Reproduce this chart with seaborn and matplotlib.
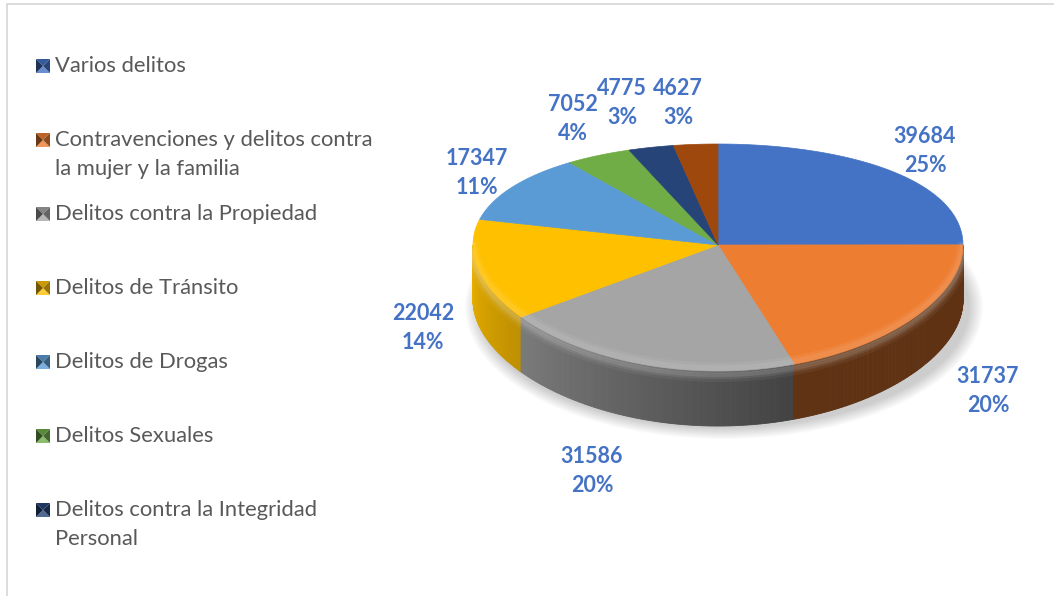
import textwrap
import numpy as np
import matplotlib
matplotlib.use("Agg")
import matplotlib.pyplot as plt
from matplotlib.collections import PolyCollection
from matplotlib.patches import Ellipse, Polygon
import matplotlib.colors as mcolors
import seaborn as sns

# ---------------- data ----------------
categories = [
    "Varios delitos",
    "Contravenciones y delitos contra la mujer y la familia",
    "Delitos contra la Propiedad",
    "Delitos de Tránsito",
    "Delitos de Drogas",
    "Delitos Sexuales",
    "Delitos contra la Integridad Personal",
    "Otros",
]
values = [39684, 31737, 31586, 22042, 17347, 7052, 4775, 4627]
colors_hex = ["#4472C4", "#ED7D31", "#A5A5A5", "#FFC000",
              "#5B9BD5", "#70AD47", "#264478", "#9E480E"]
legend_count = 7  # only the first 7 entries are visible in the legend

# ---------------- style ----------------
sns.set_theme(style="white")
plt.rcParams["font.family"] = ["Lato", "DejaVu Sans"]
palette = sns.color_palette(colors_hex)

W, H = 1054, 596
fig = plt.figure(figsize=(W / 100, H / 100), dpi=100)
ax = fig.add_axes([0, 0, 1, 1])
ax.set_xlim(0, W)
ax.set_ylim(H, 0)
ax.axis("off")

# chart border
ax.plot([7, 7, W + 5], [H + 5, 4, 4], color="#D9D9D9", lw=1.3, zorder=1)

# ---------------- 3D pie geometry ----------------
cx, cy, rx = 718, 245, 245
ry_mid, ry_skew = 113.5, 12.5
depth = 55


def proj(theta_deg, dz=0.0):
    t = np.radians(theta_deg)
    s = np.sin(t)
    return cx + rx * np.cos(t), cy - ry_mid * s + ry_skew * s ** 2 + dz


total = float(sum(values))
fracs = [v / total for v in values]
starts, ends = [], []
a = 90.0
for f in fracs:
    starts.append(a)
    a -= 360.0 * f
    ends.append(a)


def slice_at(theta):
    for i, (s, e) in enumerate(zip(starts, ends)):
        for k in (-360, 0, 360):
            th = theta + k
            if e <= th <= s:
                return i
    return len(values) - 1


# shadow
for i in range(10):
    el = Ellipse((cx + 6, cy + 62), 2 * (rx + 14 - i * 1.5), 2 * (122 - i * 1.2) + 20,
                 facecolor="#000000", alpha=0.018, lw=0, zorder=2)
    ax.add_patch(el)

# side walls (front half: -180..0)
polys, cols = [], []
step = 0.5
for th in np.arange(-180, 0, step):
    t0, t1 = th, th + step
    idx = slice_at((t0 + t1) / 2)
    base = np.array(mcolors.to_rgb(palette[idx]))
    mid = (t0 + t1) / 2
    if mid < -72:
        f = 0.92 + (0.40 - 0.92) * (mid + 180) / 108.0
    else:
        f = 0.40
    c = np.clip(base * f, 0, 1)
    x0, y0 = proj(t0)
    x1, y1 = proj(t1)
    polys.append([(x0, y0), (x1, y1), (x1, y1 + depth), (x0, y0 + depth)])
    cols.append(c)
pc = PolyCollection(polys, facecolors=cols, edgecolors=cols, linewidths=0.6, zorder=3)
ax.add_collection(pc)

# subtle bevel highlight on side top
th = np.linspace(-180, 0, 200)
bx, by = proj(th)
for w, al in [(10, 0.05), (6, 0.08), (3, 0.1)]:
    ax.plot(bx, by + 4, color="white", lw=w, alpha=al, zorder=4, solid_capstyle="butt")

# top faces
for i, (s, e) in enumerate(zip(starts, ends)):
    th = np.linspace(s, e, 120)
    px, py = proj(th)
    pts = [(cx, cy)] + list(zip(px, py))
    ax.add_patch(Polygon(pts, closed=True, facecolor=palette[i], edgecolor=palette[i],
                         lw=0.5, zorder=5))

# bevel on top face rim (front)
th = np.linspace(-180, 0, 200)
bx, by = proj(th)
for w, al in [(8, 0.06), (4, 0.08)]:
    ax.plot(bx, by - 3, color="white", lw=w, alpha=al, zorder=6, solid_capstyle="butt")

# ---------------- data labels ----------------
label_pos = [(925, 151), (988, 391), (592, 471), (423, 328),
             (477, 173), (573, 119), (622, 103), (678, 103)]
for v, f, (lx, ly) in zip(values, fracs, label_pos):
    ax.text(lx, ly, f"{v}\n{round(f * 100)}%", ha="center", va="center",
            fontsize=15.5, fontweight="bold", color="#4472C4",
            linespacing=1.45, zorder=10)

# ---------------- legend ----------------
leg_x, leg_y0, leg_step, line_h, msz = 36, 66, 74, 29, 14
for i in range(legend_count):
    y = leg_y0 + i * leg_step
    base = np.array(mcolors.to_rgb(palette[i]))
    x0, x1 = leg_x, leg_x + msz
    ym0, ym1 = y - msz / 2, y + msz / 2
    xc = (x0 + x1) / 2
    tri = [
        ([(x0, ym0), (x1, ym0), (xc, y)], base * 0.8),
        ([(x0, ym1), (x1, ym1), (xc, y)], base * 0.8 + 0.2),
        ([(x0, ym0), (x0, ym1), (xc, y)], base * 0.45),
        ([(x1, ym0), (x1, ym1), (xc, y)], base * 0.6),
    ]
    for pts, c in tri:
        ax.add_patch(Polygon(pts, closed=True, facecolor=np.clip(c, 0, 1),
                             edgecolor="none", zorder=10))
    for k, line in enumerate(textwrap.wrap(categories[i], 32)):
        ax.text(55, y + k * line_h, line, ha="left", va="center",
                fontsize=15.8, color="#595959", zorder=10)

fig.savefig("out.png", dpi=100, facecolor="white")
